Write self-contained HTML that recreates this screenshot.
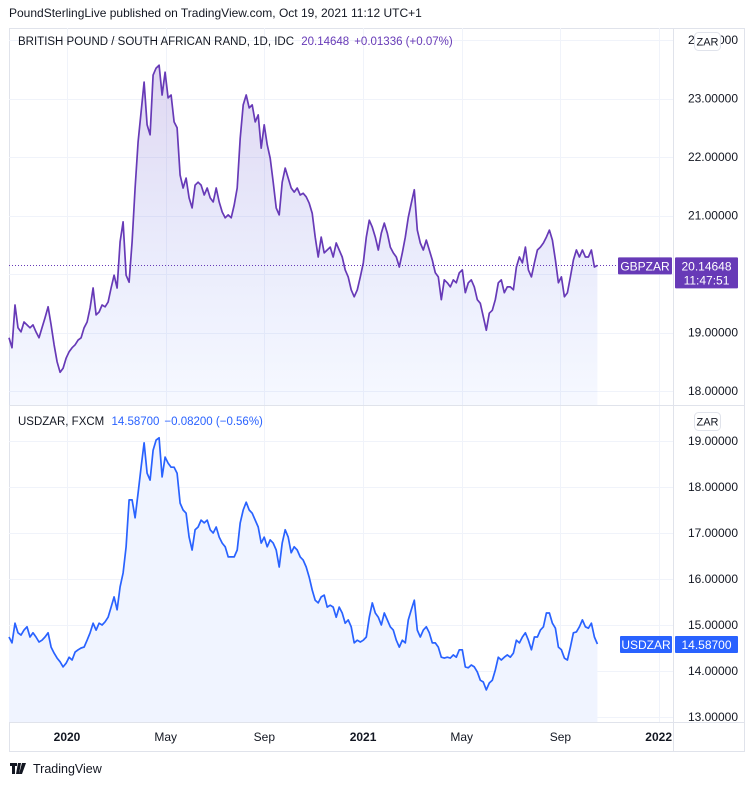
<!DOCTYPE html>
<html><head><meta charset="utf-8"><style>
html,body{margin:0;padding:0;background:#fff;}
body{width:753px;height:786px;overflow:hidden;font-family:"Liberation Sans",sans-serif;}
svg text{font-family:"Liberation Sans",sans-serif;}
</style></head><body>
<svg id="chart" width="753" height="786" viewBox="0 0 753 786">
  <text x="9" y="17" font-size="12" fill="#131722">PoundSterlingLive published on TradingView.com, Oct 19, 2021 11:12 UTC+1</text>
  <rect x="9.5" y="28.5" width="735" height="723" fill="none" stroke="#e0e3eb"/>
  <g id="grid"></g>
  <g id="series"></g>
  <line x1="673.5" y1="28" x2="673.5" y2="752" stroke="#e0e3eb"/>
  <line x1="9" y1="405.5" x2="745" y2="405.5" stroke="#e0e3eb"/>
  <line x1="9" y1="722.5" x2="745" y2="722.5" stroke="#e0e3eb"/>
  <g id="axes"></g>
  <text x="18" y="45" font-size="11.5" fill="#131722">BRITISH POUND / SOUTH AFRICAN RAND, 1D, IDC <tspan fill="#673ab7" dx="4">20.14648</tspan><tspan fill="#673ab7" dx="5">+0.01336 (+0.07%)</tspan></text>
  <text x="18" y="425" font-size="11.5" fill="#131722">USDZAR, FXCM <tspan fill="#2962ff" dx="4">14.58700</tspan><tspan fill="#2962ff" dx="5">−0.08200 (−0.56%)</tspan></text>
  <g><rect x="694.5" y="32.5" width="26" height="18" rx="4" fill="#fff" stroke="#e0e3eb"/><text x="707.5" y="45.5" font-size="11" text-anchor="middle" fill="#131722">ZAR</text></g>
  <g><rect x="694.5" y="412.5" width="26" height="18" rx="4" fill="#fff" stroke="#e0e3eb"/><text x="707.5" y="425.5" font-size="11" text-anchor="middle" fill="#131722">ZAR</text></g>
  <g>
    <path d="M10 763h7v3h-2v8h-3v-8h-2z M18 763h3l-2 11h-3z M22 763h4l-4 11h-3z" fill="#131722"/>
    <text x="33" y="773" font-size="12.5" fill="#131722">TradingView</text>
  </g>
</svg>
<script>
const gbpzar = [18.91,18.74,19.47,19.08,19.01,19.18,19.13,19.08,19.13,19.01,18.91,19.08,19.25,19.44,19.13,18.79,18.50,18.32,18.39,18.56,18.67,18.74,18.79,18.87,18.91,19.08,19.18,19.42,19.76,19.30,19.35,19.47,19.44,19.52,19.76,19.98,19.76,20.55,20.89,19.98,19.86,20.55,21.47,22.26,22.77,23.28,22.55,22.38,23.40,23.52,23.57,23.06,23.45,23.01,23.06,22.60,22.50,21.69,21.47,21.64,21.30,21.13,21.52,21.57,21.52,21.35,21.47,21.30,21.23,21.47,21.23,21.06,20.96,21.01,20.96,21.18,21.47,22.32,22.89,23.06,22.84,22.89,22.60,22.72,22.15,22.55,22.21,21.98,21.57,21.13,21.01,21.57,21.81,21.64,21.47,21.40,21.47,21.35,
21.38,21.32,21.21,21.04,20.63,20.29,20.63,20.36,20.41,20.46,20.29,20.53,20.41,20.29,20.07,19.95,19.73,19.61,19.73,19.95,20.19,20.63,20.92,20.80,20.63,20.41,20.70,20.87,20.70,20.46,20.36,20.29,20.12,20.36,20.63,20.97,21.21,21.44,20.75,20.53,20.41,20.58,20.41,20.24,20.02,19.95,19.56,19.90,19.85,19.78,19.90,19.85,20.02,20.07,19.68,19.85,19.90,19.78,19.56,19.50,19.27,19.04,19.33,19.38,19.56,19.85,19.90,19.68,19.78,19.78,19.73,20.12,20.29,20.19,20.46,20.07,19.95,20.19,20.41,20.46,20.53,20.63,20.75,20.58,20.24,19.85,19.95,19.61,19.68,19.95,20.24,20.41,20.29,20.41,20.29,20.29,20.41,20.12,20.14648];
const usdzar = [14.74,14.61,15.04,14.83,14.78,14.89,14.96,14.74,14.83,14.74,14.63,14.67,14.74,14.83,14.52,14.39,14.28,14.20,14.09,14.17,14.30,14.24,14.41,14.46,14.50,14.52,14.67,14.83,15.04,14.89,15.04,15.00,15.07,15.17,15.39,15.61,15.33,15.83,16.13,16.70,17.72,17.72,17.33,17.87,18.43,18.96,18.30,18.15,18.80,19.02,19.07,18.22,18.65,18.52,18.43,18.43,18.30,17.65,17.50,17.43,16.91,16.63,17.07,17.13,17.28,17.22,17.28,17.07,17.00,17.13,16.91,16.78,16.70,16.48,16.48,16.48,16.63,17.22,17.50,17.67,17.50,17.43,17.28,17.13,16.78,16.91,16.70,16.85,16.78,16.63,16.26,16.78,17.07,16.91,16.57,16.70,16.63,16.48,16.41,16.26,
16.04,15.76,15.54,15.48,15.61,15.65,15.39,15.43,15.39,15.17,15.39,15.26,15.04,15.11,14.96,14.61,14.67,14.63,14.67,14.74,15.17,15.48,15.26,15.17,15.00,15.26,15.11,14.96,14.89,14.67,14.52,14.67,14.61,15.11,15.33,15.54,14.89,14.74,14.89,14.96,14.83,14.61,14.61,14.52,14.30,14.28,14.30,14.28,14.35,14.30,14.46,14.46,14.09,14.07,14.13,14.09,13.98,13.80,13.76,13.59,13.74,13.80,14.02,14.30,14.24,14.30,14.35,14.30,14.39,14.67,14.61,14.74,14.83,14.67,14.46,14.74,14.74,14.89,14.96,15.26,15.26,15.04,14.93,14.52,14.46,14.28,14.24,14.52,14.83,14.85,14.96,15.11,14.96,14.93,15.04,14.74,14.587];
const topTicks = [24,23,22,21,20,19,18];
const bottomTicks = [19,18,17,16,15,14,13];
const timeTickLabels = ['2020','May','Sep','2021','May','Sep','2022'];
const timeTickMonths = [0,4,8,12,16,20,24];
const seriesStartMonth = -2.35, seriesEndMonth = 21.5;

const NS='http://www.w3.org/2000/svg';
function mk(tag, attrs, parent){const e=document.createElementNS(NS,tag);for(const k in attrs)e.setAttribute(k,attrs[k]);parent.appendChild(e);return e;}
const xMonth = m => 67 + m*24.67;
const yTop = v => 40 + (24 - v)*58.5;
const yBot = v => 441 + (19 - v)*46;
const xIdx = (i,n) => xMonth(seriesStartMonth + i*(seriesEndMonth-seriesStartMonth)/(n-1));

const grid=document.getElementById('grid'), axes=document.getElementById('axes'), series=document.getElementById('series');
timeTickMonths.forEach((m,i)=>{
  const x=Math.round(xMonth(m))+0.5;
  const gl=mk('line',{x1:x,y1:28,x2:x,y2:722,stroke:'#f0f3fa'},grid);
  
  
  const t=mk('text',{x:xMonth(m),y:741,'font-size':12,'text-anchor':i===6?'end':'middle',fill:'#131722','font-weight':(timeTickLabels[i].length===4?'bold':'normal')},axes);
  if(i===6) t.setAttribute('x',672);
  t.textContent=timeTickLabels[i];
  
  
});
function priceAxis(ticks, yf, ymin, ymax, nm){
  ticks.forEach(v=>{
    const y=Math.round(yf(v))+0.5;
    if(y>ymin && y<ymax){
      const gl=mk('line',{x1:9,y1:y,x2:673,y2:y,stroke:'#f0f3fa'},grid);
      
      
    }
    const t=mk('text',{x:738,y:yf(v)+4,'font-size':12,'text-anchor':'end',fill:'#131722'},axes);
    t.textContent=v.toFixed(5);
    
    
  });
}
priceAxis(topTicks,yTop,28,405,'top-price');
priceAxis(bottomTicks,yBot,405,722,'bottom-price');

const defs=mk('defs',{},series);
const g1=mk('linearGradient',{id:'g1',x1:0,y1:0,x2:0,y2:1},defs);
mk('stop',{offset:'0','stop-color':'#673ab7','stop-opacity':'0.2'},g1);
mk('stop',{offset:'1','stop-color':'#2962ff','stop-opacity':'0.04'},g1);

function drawSeries(data, yf, baseY, fill, stroke, nm){
  const pts=data.map((v,i)=>[xIdx(i,data.length),yf(v)]);
  const d=pts.map((p,i)=>(i?'L':'M')+p[0].toFixed(1)+' '+p[1].toFixed(1)).join(' ');
  const area=mk('path',{d:d+` L${pts[pts.length-1][0].toFixed(1)} ${baseY} L${pts[0][0].toFixed(1)} ${baseY} Z`,fill:fill,stroke:'none'},series);
  
  
  const line=mk('path',{d:d,fill:'none',stroke:stroke,'stroke-width':1.7,'stroke-linejoin':'round'},series);
  
  
  return pts;
}
drawSeries(gbpzar,yTop,405,'url(#g1)','#673ab7','gbpzar');
drawSeries(usdzar,yBot,722,'#f0f4ff','#2962ff','usdzar');

const lastTop=gbpzar[gbpzar.length-1], lastBot=usdzar[usdzar.length-1];
const yl=Math.round(yTop(lastTop))+0.5;
const pl=mk('line',{x1:9,y1:yl,x2:617,y2:yl,stroke:'#673ab7','stroke-dasharray':'1 2'},axes);


function tag(x,y,w,h,txt,color,nm){
  const g=mk('g',{},axes);
  
  
  mk('rect',{x:x,y:y,width:w,height:h,fill:color,rx:1},g);
  txt.forEach((s,i)=>{const t=mk('text',{x:x+w/2,y:y+13+i*14,'font-size':12,'text-anchor':'middle',fill:'#fff'},g);t.textContent=s;});
}
const yt=yTop(lastTop);
tag(618,yt-8,54,17,['GBPZAR'],'#673ab7','gbpzar-symbol-tag');
tag(675,yt-8,63,31,[lastTop.toFixed(5),'11:47:51'],'#673ab7','gbpzar-price-tag');
const yb=yBot(lastBot);
tag(620,yb-8,52,17,['USDZAR'],'#2962ff','usdzar-symbol-tag');
tag(675,yb-8,63,17,[lastBot.toFixed(5)],'#2962ff','usdzar-price-tag');
</script>
</body></html>
